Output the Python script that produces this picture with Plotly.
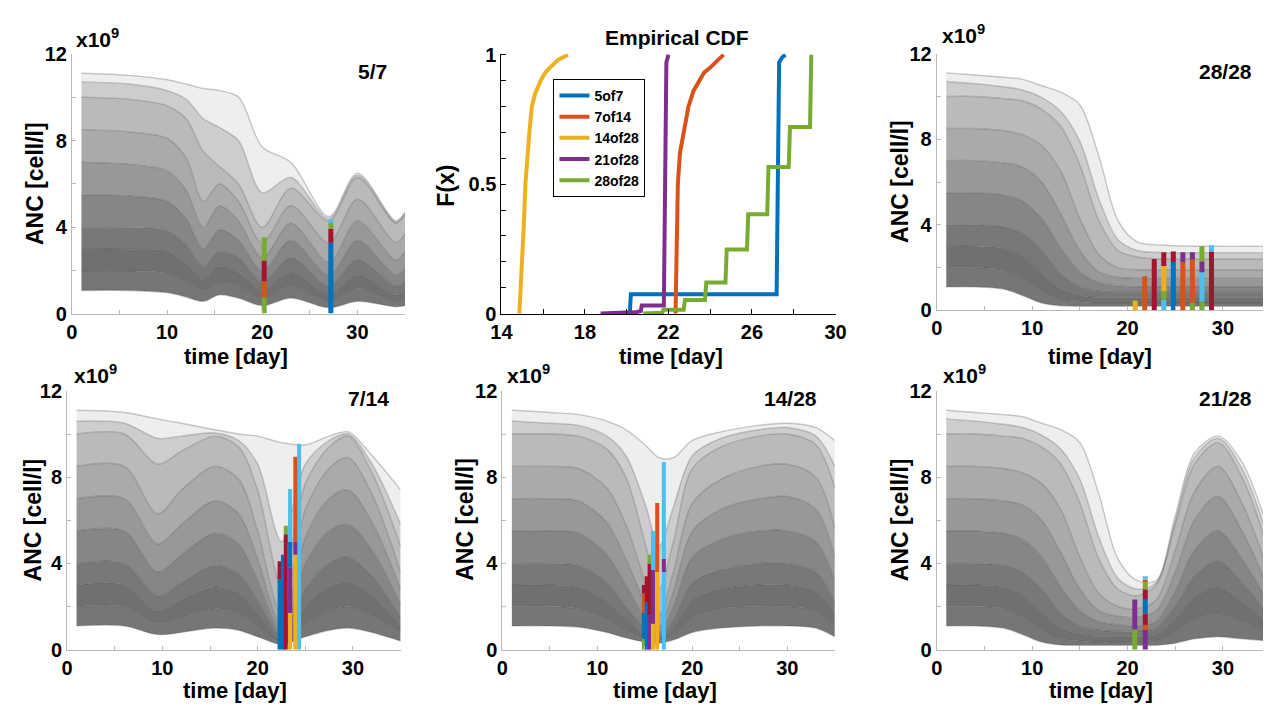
import plotly.graph_objects as go

W, H = 1274, 712
FONT = "Liberation Sans, Arial, Helvetica, sans-serif"

# ------------------------------------------------------------------ data
# representative ANC trajectories (x10^9 cell/l)
p57_t = [1, 6, 10, 12, 13.8, 15.5, 17.5, 20, 23, 27, 30, 34, 35]
p57_curves = [
    [1.1, 1.1, 1.0, 0.8, 0.6, 0.9, 0.75, 0.4, 0.75, 0.3, 0.6, 0.35, 0.4],
    [2.0, 2.0, 1.9, 1.5, 1.1, 1.5, 1.3, 0.7, 1.3, 0.6, 1.2, 0.6, 0.7],
    [3.0, 3.0, 2.9, 2.3, 1.6, 2.2, 1.9, 1.1, 1.9, 0.9, 1.8, 0.9, 1.05],
    [4.0, 4.0, 3.85, 3.2, 2.2, 2.9, 2.6, 1.5, 2.6, 1.3, 2.5, 1.3, 1.5],
    [5.5, 5.45, 5.2, 4.4, 3.0, 3.9, 3.4, 2.0, 3.4, 1.8, 3.4, 1.8, 2.1],
    [7.0, 6.9, 6.6, 5.7, 4.0, 5.0, 4.3, 2.6, 4.2, 2.4, 4.3, 2.5, 2.9],
    [8.5, 8.4, 8.1, 7.2, 5.2, 6.0, 5.2, 3.3, 5.0, 3.3, 5.3, 3.3, 3.7],
    [10.0, 9.9, 9.6, 9.0, 7.5, 6.8, 6.0, 4.0, 5.8, 4.3, 6.3, 4.2, 4.6],
    [10.7, 10.6, 10.3, 9.9, 9.0, 8.6, 8.0, 5.6, 6.3, 4.4, 6.4, 4.25, 4.65],
    [11.1, 11.0, 10.8, 10.6, 10.4, 10.3, 10.0, 7.7, 7.0, 4.5, 6.5, 4.3, 4.7],
]

p2828_t = [1, 4, 7, 9, 11, 13, 15, 17, 19, 21, 24, 28, 35]
p2828_curves = [
    [1.1, 1.1, 1.0, 0.7, 0.35, 0.22, 0.2, 0.2, 0.2, 0.2, 0.2, 0.2, 0.2],
    [2.0, 2.0, 1.9, 1.5, 0.9, 0.5, 0.4, 0.35, 0.35, 0.35, 0.35, 0.35, 0.35],
    [3.0, 3.0, 2.9, 2.5, 1.7, 1.0, 0.7, 0.6, 0.6, 0.6, 0.6, 0.6, 0.6],
    [4.0, 4.0, 3.9, 3.6, 2.8, 1.7, 1.1, 0.9, 0.85, 0.85, 0.85, 0.85, 0.85],
    [5.5, 5.5, 5.4, 5.1, 4.3, 2.9, 1.8, 1.3, 1.15, 1.1, 1.1, 1.1, 1.1],
    [7.0, 7.0, 6.9, 6.7, 6.0, 4.5, 2.8, 1.8, 1.55, 1.5, 1.5, 1.5, 1.5],
    [8.5, 8.5, 8.4, 8.2, 7.7, 6.5, 4.3, 2.6, 2.0, 1.9, 1.9, 1.9, 1.9],
    [10.0, 10.0, 9.9, 9.8, 9.4, 8.6, 6.8, 4.2, 2.8, 2.5, 2.4, 2.4, 2.4],
    [10.7, 10.6, 10.45, 10.3, 9.95, 9.3, 7.9, 5.2, 3.3, 2.8, 2.7, 2.7, 2.7],
    [11.1, 11.0, 10.9, 10.8, 10.5, 10.2, 9.6, 7.2, 4.2, 3.2, 3.05, 3.0, 3.0],
]

p714_t = [1, 6, 9.5, 12, 15.5, 18, 20, 22.5, 25, 27.5, 29.5, 32, 35]
p714_curves = [
    [1.1, 1.1, 0.7, 0.8, 1.0, 0.9, 0.6, 0.25, 0.6, 0.9, 1.0, 0.8, 0.4],
    [2.0, 2.0, 1.2, 1.5, 1.9, 1.7, 1.1, 0.35, 1.2, 1.8, 2.0, 1.6, 0.8],
    [3.0, 3.0, 1.8, 2.3, 2.9, 2.6, 1.7, 0.45, 2.0, 2.9, 3.1, 2.5, 1.1],
    [4.0, 4.0, 2.5, 3.1, 3.9, 3.5, 2.3, 0.6, 2.8, 4.0, 4.3, 3.4, 1.5],
    [5.5, 5.5, 3.6, 4.4, 5.4, 4.9, 3.2, 0.8, 4.0, 5.5, 5.8, 4.6, 2.1],
    [7.0, 7.0, 4.9, 5.8, 6.9, 6.3, 4.2, 1.1, 5.2, 7.0, 7.4, 5.9, 2.8],
    [8.5, 8.5, 6.3, 7.4, 8.5, 7.9, 5.5, 1.6, 6.5, 8.4, 8.9, 7.2, 3.6],
    [10.0, 10.0, 8.6, 9.2, 9.9, 9.4, 7.4, 3.0, 7.7, 9.4, 9.9, 8.2, 4.8],
    [10.6, 10.5, 9.8, 9.9, 10.05, 9.7, 8.6, 5.0, 8.6, 9.7, 10.0, 8.6, 5.8],
    [11.1, 11.0, 10.7, 10.5, 10.2, 10.0, 9.9, 9.6, 9.5, 9.9, 10.1, 9.0, 7.4],
]

p1428_t = [1, 5, 8, 11, 13, 15, 16.5, 18, 20, 23, 27, 30, 33, 35]
p1428_curves = [
    [1.1, 1.1, 1.05, 0.8, 0.55, 0.35, 0.3, 0.45, 0.8, 1.0, 1.1, 1.1, 1.0, 0.6],
    [2.0, 2.0, 1.9, 1.4, 0.9, 0.5, 0.4, 0.7, 1.5, 1.9, 2.0, 2.0, 1.8, 1.0],
    [3.0, 3.0, 2.9, 2.2, 1.4, 0.7, 0.5, 1.0, 2.3, 2.8, 3.0, 3.0, 2.7, 1.6],
    [4.0, 4.0, 3.9, 3.1, 2.0, 1.0, 0.6, 1.4, 3.1, 3.7, 4.0, 4.0, 3.6, 2.2],
    [5.5, 5.5, 5.4, 4.4, 3.0, 1.5, 0.8, 2.0, 4.3, 5.1, 5.5, 5.5, 5.0, 3.2],
    [7.0, 7.0, 6.9, 5.9, 4.2, 2.2, 1.1, 2.7, 5.5, 6.5, 7.0, 7.1, 6.5, 4.3],
    [8.5, 8.5, 8.4, 7.5, 5.8, 3.2, 1.6, 3.6, 6.8, 7.9, 8.5, 8.6, 8.0, 5.6],
    [10.0, 10.0, 9.9, 9.3, 8.0, 5.0, 2.8, 5.0, 8.4, 9.4, 9.9, 10.0, 9.5, 7.5],
    [10.6, 10.5, 10.4, 9.9, 9.0, 6.8, 4.8, 6.6, 9.0, 9.8, 10.2, 10.3, 9.9, 8.5],
    [11.1, 11.0, 10.9, 10.6, 10.2, 9.5, 8.9, 8.9, 9.7, 10.1, 10.4, 10.5, 10.3, 9.7],
]

p2128_t = [1, 4, 7, 9, 11, 13, 15, 17, 19, 21, 23, 25, 27, 29.5, 32, 35]
p2128_curves = [
    [1.1, 1.1, 1.0, 0.7, 0.35, 0.22, 0.2, 0.2, 0.2, 0.2, 0.2, 0.3, 0.5, 0.6, 0.5, 0.4],
    [2.0, 2.0, 1.9, 1.5, 0.9, 0.5, 0.4, 0.35, 0.35, 0.35, 0.4, 0.8, 1.4, 1.7, 1.3, 0.7],
    [3.0, 3.0, 2.9, 2.5, 1.7, 1.0, 0.7, 0.6, 0.6, 0.6, 0.7, 1.4, 2.4, 2.9, 2.2, 1.1],
    [4.0, 4.0, 3.9, 3.6, 2.8, 1.7, 1.1, 0.9, 0.85, 0.85, 1.0, 2.0, 3.4, 4.1, 3.1, 1.5],
    [5.5, 5.5, 5.4, 5.1, 4.3, 2.9, 1.8, 1.3, 1.15, 1.1, 1.3, 2.7, 4.6, 5.5, 4.2, 2.0],
    [7.0, 7.0, 6.9, 6.7, 6.0, 4.5, 2.8, 1.8, 1.55, 1.5, 1.8, 3.6, 6.0, 7.1, 5.5, 2.6],
    [8.5, 8.5, 8.4, 8.2, 7.7, 6.5, 4.3, 2.6, 2.0, 1.9, 2.3, 4.6, 7.3, 8.5, 6.8, 3.3],
    [10.0, 10.0, 9.9, 9.8, 9.4, 8.6, 6.8, 4.2, 2.8, 2.5, 3.0, 5.8, 8.6, 9.6, 8.0, 4.3],
    [10.7, 10.6, 10.45, 10.3, 9.95, 9.3, 7.9, 5.2, 3.3, 2.8, 3.1, 6.0, 8.9, 9.8, 8.4, 4.8],
    [11.1, 11.0, 10.9, 10.8, 10.5, 10.2, 9.6, 7.2, 4.2, 3.2, 3.2, 6.2, 9.1, 9.9, 8.7, 5.2],
]

# coloured threshold-crossing bars: day, lower and upper ANC, colour key
p57_bar_x = [20.2, 20.2, 20.2, 20.2, 27.2, 27.2, 27.2, 27.2]
p57_bar_lo = [0.05, 0.78, 1.52, 2.48, 0.05, 3.3, 3.93, 4.22]
p57_bar_hi = [0.78, 1.52, 2.48, 3.55, 3.3, 3.93, 4.22, 4.37]
p57_bar_c = ["g", "o", "r", "g", "b", "r", "g", "c"]

p2828_bar_x = [20.8, 21.8, 22.8, 23.8, 23.8, 23.8, 23.8, 24.8, 24.8, 25.8, 25.8,
               26.8, 26.8, 26.8, 27.8, 27.8, 27.8, 27.8, 28.8, 28.8]
p2828_bar_lo = [0, 0, 0, 0, 0.5, 0.9, 2.08, 0, 2.26, 0, 2.26,
                0, 0.35, 2.38, 0, 0.42, 1.78, 2.3, 0, 2.76]
p2828_bar_hi = [0.45, 1.6, 2.4, 0.5, 0.9, 2.08, 2.72, 2.26, 2.76, 2.26, 2.72,
                0.35, 2.38, 2.72, 0.42, 1.78, 2.3, 3.0, 2.76, 3.05]
p2828_bar_c = ["y", "o", "r", "c", "g", "y", "r", "b", "r", "o", "p",
               "g", "o", "p", "g", "c", "p", "g", "r", "c"]

p714_bar_x = [24.35, 22.3, 22.3, 22.65, 22.95, 22.95, 23.4, 23.4, 23.4, 23.4,
              23.95, 23.95, 23.95]
p714_bar_lo = [0, 0, 3.25, 0, 0, 5.35, 0, 1.7, 3.8, 5.0, 0, 4.4, 5.0]
p714_bar_hi = [9.55, 3.25, 4.1, 4.4, 5.35, 5.75, 1.7, 3.8, 5.0, 7.45, 4.4, 5.0, 8.95]
p714_bar_c = ["c", "b", "r", "b", "r", "g", "y", "p", "b", "c", "y", "p", "o"]

p1428_bar_x = [14.9, 14.9, 14.9, 14.9, 15.2, 15.2, 15.5, 15.5, 15.5, 15.85, 15.85,
               15.85, 16.3, 16.3, 17.0, 17.0, 17.0]
p1428_bar_lo = [0, 0.5, 1.7, 2.6, 0, 2.2, 0, 1.6, 4.0, 0, 1.2, 3.7, 0, 3.6, 0, 3.6, 4.2]
p1428_bar_hi = [0.5, 1.7, 2.6, 3.0, 2.2, 3.4, 1.6, 4.0, 4.4, 1.2, 3.7, 5.5, 3.6, 6.8,
                3.6, 4.2, 8.7]
p1428_bar_c = ["g", "b", "o", "r", "b", "r", "p", "r", "g", "y", "p", "c", "y", "o",
               "c", "p", "c"]

p2128_bar_x = [20.76, 20.76, 21.86, 21.86, 21.86, 21.86, 21.86, 21.86, 21.86, 21.86]
p2128_bar_lo = [0, 0.93, 0, 0.93, 1.15, 1.68, 2.35, 2.8, 3.13, 3.25]
p2128_bar_hi = [0.93, 2.32, 0.93, 1.15, 1.68, 2.35, 2.8, 3.13, 3.25, 3.4]
p2128_bar_c = ["g", "p", "p", "o", "r", "b", "r", "g", "o", "c"]

# empirical CDFs of crossing day
cdf_names = ["5of7", "7of14", "14of28", "21of28", "28of28"]
cdf_5of7_x = [20.15, 20.2, 27.18, 27.25, 27.3, 27.45, 27.6]
cdf_5of7_y = [0, 0.075, 0.075, 0.9, 0.97, 0.99, 1.0]
cdf_7of14_x = [22.34, 22.38, 22.45, 22.55, 22.75, 22.96, 23.2, 23.46, 23.7, 24.0, 24.3, 24.64]
cdf_7of14_y = [0, 0.2, 0.5, 0.62, 0.7, 0.8, 0.86, 0.9, 0.93, 0.95, 0.975, 1.0]
cdf_14of28_x = [14.86, 14.93, 14.99, 15.08, 15.15, 15.25, 15.34, 15.46, 15.62, 15.88,
                16.1, 16.32, 16.72, 17.19]
cdf_14of28_y = [0, 0.1, 0.2, 0.35, 0.5, 0.62, 0.7, 0.8, 0.85, 0.9, 0.93, 0.95, 0.98, 1.0]
cdf_21of28_x = [18.75, 19.8, 20.5, 20.68, 20.72, 21.78, 21.82, 21.86, 21.9, 22.0]
cdf_21of28_y = [0, 0.003, 0.006, 0.01, 0.031, 0.031, 0.3, 0.8, 0.97, 1.0]
cdf_28of28_x = [20.79, 21.7, 21.76, 22.73, 22.79, 23.75, 23.81, 24.73, 24.79, 25.76,
                25.82, 26.73, 26.79, 27.76, 27.82, 28.78, 28.84]
cdf_28of28_y = [0, 0.003, 0.015, 0.015, 0.052, 0.052, 0.12, 0.12, 0.247, 0.247,
                0.384, 0.384, 0.566, 0.566, 0.721, 0.721, 1.0]

panel_labels = ["5/7", "28/28", "7/14", "14/28", "21/28"]

anc_x_ticks = [0, 10, 20, 30]
anc_x_minor = [5, 15, 25, 35]
anc_y_ticks = [0, 4, 8, 12]
anc_y_minor = [2, 6, 10]
cdf_x_ticks = [14, 18, 22, 26, 30]
cdf_x_minor = [16, 20, 24, 28]
cdf_y_ticks = [0, 0.5, 1]
cdf_y_minor = [0.1, 0.2, 0.3, 0.4, 0.6, 0.7, 0.8, 0.9]

# ------------------------------------------------------------------ styles
PAL = {"b": "#0072BD", "o": "#D95319", "y": "#EDB120", "p": "#7E2F8E",
       "g": "#77AC30", "c": "#4DBEEE", "r": "#A2142F"}
CDF_COLORS = ["#0072BD", "#D95319", "#EDB120", "#7E2F8E", "#77AC30"]
BAND_FILLS = ["rgb(118,118,118)", "rgb(112,112,112)", "rgb(120,120,120)",
              "rgb(134,134,134)", "rgb(152,152,152)", "rgb(170,170,170)",
              "rgb(186,186,186)", "rgb(205,205,205)", "rgb(238,238,238)"]
LINE_COL = "rgba(80,80,80,0.30)"


def px_x(x):
    return x / W


def px_y(y):
    return 1 - y / H


fig = go.Figure()


def ax_ids(n):
    return ("x", "y") if n == 1 else ("x%d" % n, "y%d" % n)


def add_bundle(n, t, curves):
    xa, ya = ax_ids(n)
    for k, c in enumerate(curves):
        fig.add_trace(go.Scatter(
            x=t, y=c, mode="lines", xaxis=xa, yaxis=ya,
            line=dict(shape="spline", smoothing=0.9, width=1.4, color=LINE_COL),
            fill="tonexty" if k > 0 else "none",
            fillcolor=BAND_FILLS[k - 1] if k > 0 else None,
            showlegend=False, hoverinfo="skip"))


def add_bars(n, bx, lo, hi, cols, width_px):
    xa, ya = ax_ids(n)
    for x0, a, b, c in zip(bx, lo, hi, cols):
        fig.add_trace(go.Scatter(x=[x0, x0], y=[a, b], mode="lines",
                                 line=dict(color=PAL[c], width=width_px),
                                 xaxis=xa, yaxis=ya, showlegend=False,
                                 hoverinfo="skip"))


add_bundle(1, p57_t, p57_curves)
add_bars(1, p57_bar_x, p57_bar_lo, p57_bar_hi, p57_bar_c, 5)

cdf_x = [cdf_5of7_x, cdf_7of14_x, cdf_14of28_x, cdf_21of28_x, cdf_28of28_x]
cdf_y = [cdf_5of7_y, cdf_7of14_y, cdf_14of28_y, cdf_21of28_y, cdf_28of28_y]
for name, xs, ys, col in zip(cdf_names, cdf_x, cdf_y, CDF_COLORS):
    fig.add_trace(go.Scatter(x=xs, y=ys, mode="lines", name="<b>%s</b>" % name,
                             line=dict(color=col, width=4),
                             xaxis="x2", yaxis="y2", hoverinfo="skip"))

add_bundle(3, p2828_t, p2828_curves)
add_bars(3, p2828_bar_x, p2828_bar_lo, p2828_bar_hi, p2828_bar_c, 5)

add_bundle(4, p714_t, p714_curves)
add_bars(4, p714_bar_x, p714_bar_lo, p714_bar_hi, p714_bar_c, 4)

add_bundle(5, p1428_t, p1428_curves)
add_bars(5, p1428_bar_x, p1428_bar_lo, p1428_bar_hi, p1428_bar_c, 4)

add_bundle(6, p2128_t, p2128_curves)
add_bars(6, p2128_bar_x, p2128_bar_lo, p2128_bar_hi, p2128_bar_c, 5)

# ------------------------------------------------------------------ axes
TICKFONT = dict(family=FONT, size=20, color="black", weight="bold")


def bold_labels(vals):
    return ["<b>%g</b>" % v for v in vals]


def make_axis(dom, rng, anchor, ticks, minor, color, ticklen=4):
    return dict(domain=dom, range=rng, anchor=anchor,
                tickmode="array", tickvals=ticks, ticktext=bold_labels(ticks),
                ticks="inside", ticklen=ticklen, tickcolor=color,
                showline=True, linecolor=color, linewidth=1,
                showgrid=False, zeroline=False, tickfont=TICKFONT,
                minor=dict(tickmode="array", tickvals=minor, ticks="inside",
                           ticklen=ticklen, tickcolor=color, showgrid=False))


def anc_axes(n, xpx, ypx, xmax):
    sfx = "" if n == 1 else str(n)
    gray = "#b8b8b8"
    xa = make_axis([px_x(xpx[0]), px_x(xpx[1])], [0, xmax], "y" + sfx,
                   anc_x_ticks, anc_x_minor, gray)
    ya = make_axis([px_y(ypx[1]), px_y(ypx[0])], [0, 12], "x" + sfx,
                   anc_y_ticks, anc_y_minor, gray)
    return {"xaxis" + sfx: xa, "yaxis" + sfx: ya}


layout_axes = {}
layout_axes.update(anc_axes(1, (62, 401), (44, 313), 35))
layout_axes.update(anc_axes(3, (942, 1274), (44, 309), 34.2))
layout_axes.update(anc_axes(4, (57, 396.5), (392, 659), 35))
layout_axes.update(anc_axes(5, (500, 838.3), (392, 659), 35))
layout_axes.update(anc_axes(6, (942, 1274), (392, 659), 34.2))
layout_axes["xaxis2"] = make_axis([px_x(499), px_x(839)], [14, 30], "y2",
                                  cdf_x_ticks, cdf_x_minor, "black", 5)
layout_axes["yaxis2"] = make_axis([px_y(313), px_y(44)], [-0.003, 1.004], "x2",
                                  cdf_y_ticks, cdf_y_minor, "black", 5)

# ------------------------------------------------------------------ annotations
ann = []


def text(x, y, s, size, xanchor="center", yanchor="middle", angle=0):
    ann.append(dict(x=px_x(x), y=px_y(y), xref="paper", yref="paper", text=s,
                    showarrow=False, xanchor=xanchor, yanchor=yanchor,
                    textangle=angle,
                    font=dict(family=FONT, size=size, color="black")))


# exponent marks
for (x, y) in [(64, 43), (945, 39), (62, 390), (503, 390), (946, 390)]:
    text(x, y, "<b>x10<sup>9</sup></b>", 21, xanchor="left", yanchor="bottom")

# panel labels
for s, (x, y) in zip(panel_labels, [(385, 62), (1265, 62), (387, 400), (822, 400), (1265, 400)]):
    text(x, y, "<b>%s</b>" % s, 21, xanchor="right")

text(678, 27, "<b>Empirical CDF</b>", 21)

# y titles
for (x, y) in [(24, 178), (904, 176), (22, 525), (462, 525), (904, 525)]:
    text(x, y, "<b>ANC [cell/l]</b>", 23, angle=-90)
text(443, 180, "<b>F(x)</b>", 23, angle=-90)

# x titles
for (x, y) in [(229, 357), (672, 357), (1108, 356), (228, 701), (666, 701), (1109, 701)]:
    text(x, y, "<b>time [day]</b>", 22)

fig.update_layout(
    width=W, height=H, margin=dict(l=0, r=0, t=0, b=0),
    paper_bgcolor="white", plot_bgcolor="white",
    font=dict(family=FONT, color="black"),
    legend=dict(x=px_x(552), y=px_y(70), xanchor="left", yanchor="top",
                traceorder="normal",
                bgcolor="white", bordercolor="black", borderwidth=1,
                font=dict(family=FONT, size=14, color="black", weight="bold"),
                tracegroupgap=0, itemwidth=30),
    annotations=ann,
    **layout_axes,
)

fig.write_html("out.html")
